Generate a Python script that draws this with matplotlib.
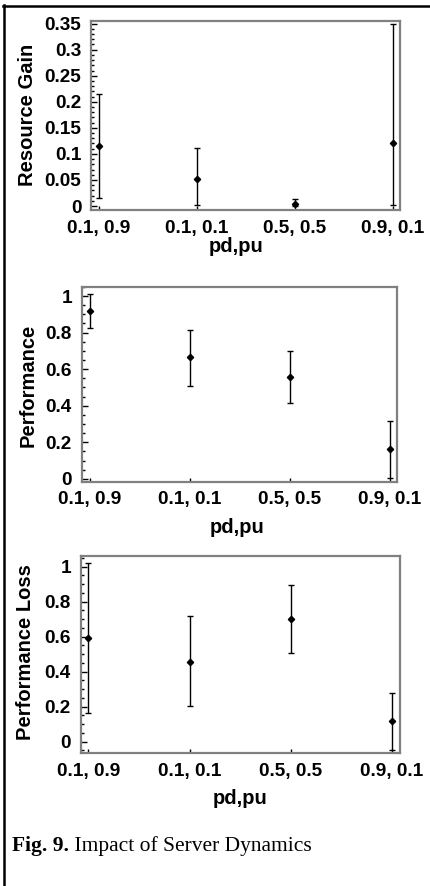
import numpy as np
import matplotlib
matplotlib.use("Agg")
import matplotlib.pyplot as plt
from matplotlib.lines import Line2D
from matplotlib.text import Annotation
from matplotlib.ticker import MultipleLocator

plt.rcParams['font.family'] = ['Liberation Sans', 'DejaVu Sans']

# Data
categories = ["0.1, 0.9", "0.1, 0.1", "0.5, 0.5", "0.9, 0.1"]

gain_mean = [0.115, 0.052, 0.004, 0.121]
gain_low = [0.016, 0.002, 0.0, 0.002]
gain_high = [0.214, 0.112, 0.013, 0.349]

perf_mean = [0.920, 0.664, 0.558, 0.163]
perf_low = [0.823, 0.509, 0.413, 0.004]
perf_high = [1.011, 0.814, 0.700, 0.316]

loss_mean = [0.594, 0.457, 0.701, 0.117]
loss_low = [0.162, 0.204, 0.505, -0.047]
loss_high = [1.023, 0.720, 0.895, 0.277]

fig = plt.figure(figsize=(4.31, 8.86), dpi=100)

panels = [
    dict(rect=[0.2111, 0.763, 0.717, 0.213], mean=gain_mean, low=gain_low, high=gain_high,
         ylabel="Resource Gain", ylim=(-0.0076, 0.3545), minor=0.01,
         yticks=[0, 0.05, 0.1, 0.15, 0.2, 0.25, 0.3, 0.35],
         yticklabels=["0", "0.05", "0.1", "0.15", "0.2", "0.25", "0.3", "0.35"],
         xlim=(-0.08, 3.075), ylab=(-0.205, 0.503), xlab=(0.47, -0.194)),
    dict(rect=[0.1896, 0.4563, 0.7322, 0.2201], mean=perf_mean, low=perf_low, high=perf_high,
         ylabel="Performance", ylim=(-0.016, 1.051), minor=0.05,
         yticks=[0, 0.2, 0.4, 0.6, 0.8, 1.0],
         yticklabels=["0", "0.2", "0.4", "0.6", "0.8", "1"],
         xlim=(-0.083, 3.073), ylab=(-0.170, 0.496), xlab=(0.491, -0.237)),
    dict(rect=[0.1872, 0.1498, 0.7408, 0.2227], mean=loss_mean, low=loss_low, high=loss_high,
         ylabel="Performance Loss", ylim=(-0.066, 1.061), minor=0.05,
         yticks=[0, 0.2, 0.4, 0.6, 0.8, 1.0],
         yticklabels=["0", "0.2", "0.4", "0.6", "0.8", "1"],
         xlim=(-0.077, 3.08), ylab=(-0.174, 0.513), xlab=(0.499, -0.227)),
]

x = np.arange(len(categories))
for p in panels:
    ax = fig.add_axes(p['rect'])
    m = np.array(p['mean'])
    err = [m - np.array(p['low']), np.array(p['high']) - m]
    ax.errorbar(x, m, yerr=err, fmt='D', color='black', markersize=3.2,
                elinewidth=1.0, capsize=2.5, capthick=1.0)
    ax.set_xlim(*p['xlim'])
    ax.set_ylim(*p['ylim'])
    ax.set_xticks(x)
    ax.set_xticklabels(categories)
    ax.set_yticks(p['yticks'])
    ax.set_yticklabels(p['yticklabels'])
    ax.yaxis.set_minor_locator(MultipleLocator(p['minor']))
    ax.tick_params(axis='both', which='both', direction='in', labelsize=13.7,
                   color='black')
    ax.tick_params(axis='y', which='major', length=4, width=1, pad=7)
    ax.tick_params(axis='y', which='minor', length=2, width=1)
    ax.tick_params(axis='x', which='major', length=3, width=1, pad=7)
    for lab in ax.get_xticklabels() + ax.get_yticklabels():
        lab.set_fontweight('bold')
    for s in ax.spines.values():
        s.set_color('#808080')
        s.set_linewidth(1.6)
    ax.set_ylabel(p['ylabel'], fontsize=14.5, fontweight='bold')
    ax.yaxis.set_label_coords(*p['ylab'])
    ax.set_xlabel("pd,pu", fontsize=14.5, fontweight='bold')
    ax.xaxis.set_label_coords(*p['xlab'])
    ax.xaxis.label.set_va('center')
    ax.yaxis.label.set_va('center')

# caption
t1 = fig.text(12 / 431, 1 - 846 / 886, "Fig. 9.", fontsize=15.5, fontweight='bold',
              family='Liberation Serif', va='center', ha='left')
fig.add_artist(Annotation(" Impact of Server Dynamics", xy=(1, 0.5), xycoords=t1,
                          va='center', ha='left', fontsize=15.5,
                          family='Liberation Serif'))

# page frame lines on left and top
fig.add_artist(Line2D([4 / 431, 4 / 431], [0, 1 - 5 / 886], transform=fig.transFigure,
                      color='black', linewidth=1.8))
fig.add_artist(Line2D([3 / 431, 1], [1 - 5.5 / 886, 1 - 5.5 / 886], transform=fig.transFigure,
                      color='black', linewidth=1.8))

fig.savefig("out.png", dpi=100)
